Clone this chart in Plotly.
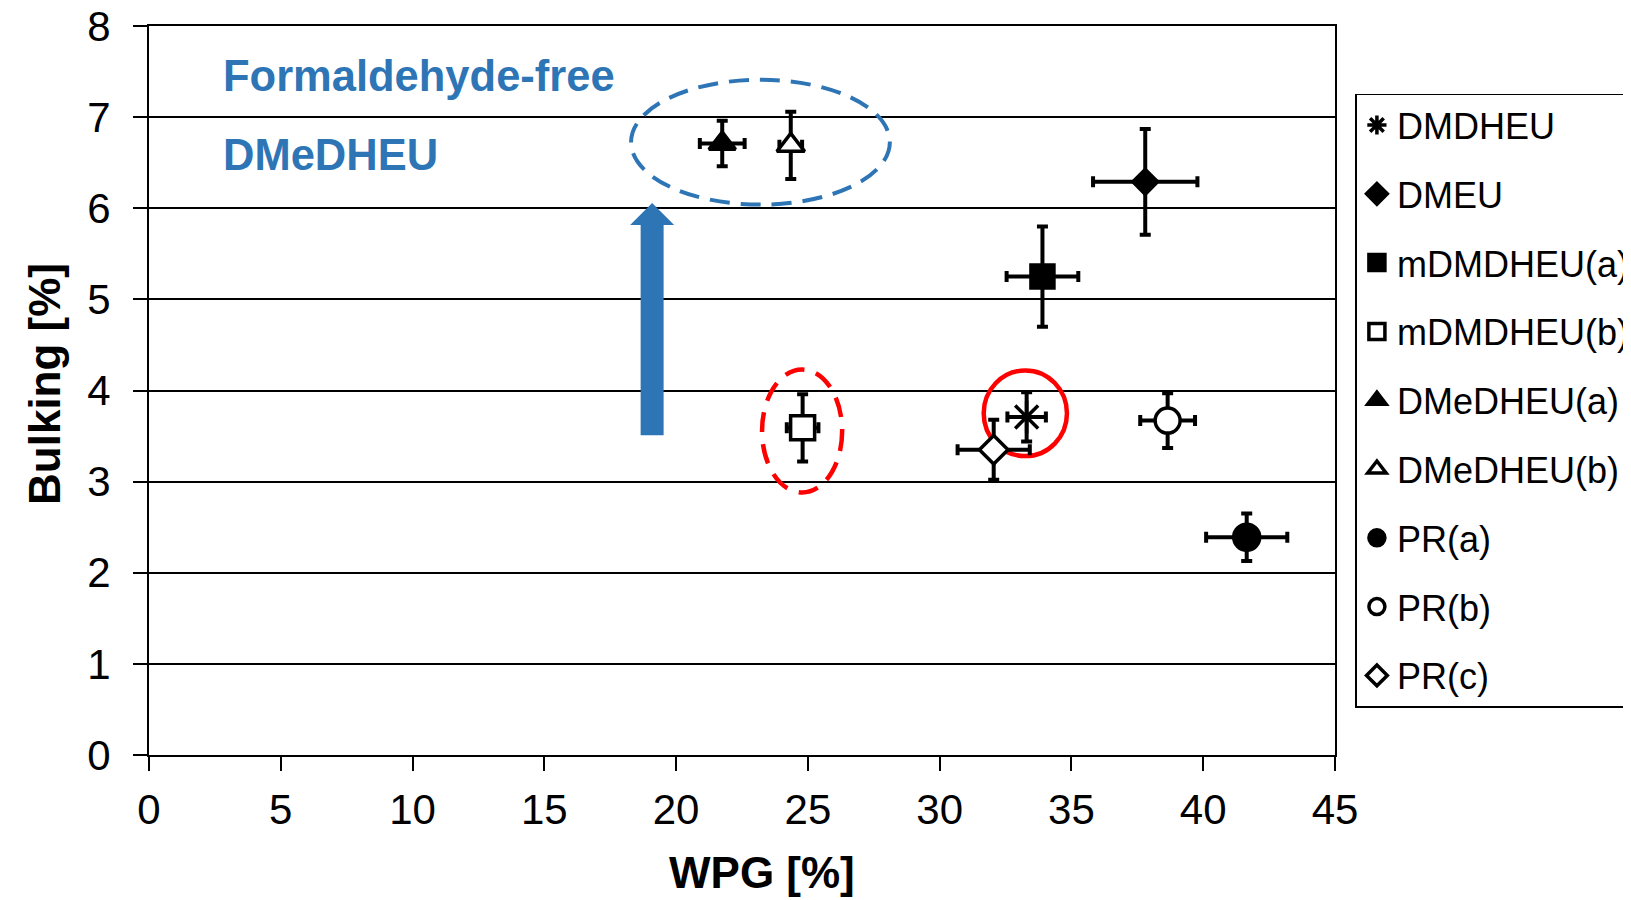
import plotly.graph_objects as go

# ---- data ----
names = ["DMDHEU", "DMEU", "mDMDHEU(a)", "mDMDHEU(b)", "DMeDHEU(a)",
         "DMeDHEU(b)", "PR(a)", "PR(b)", "PR(c)"]
wpg = [33.3, 37.8, 33.9, 24.8, 21.75, 24.35, 41.65, 38.65, 32.05]
wpg_err = [0.73, 1.98, 1.36, 0.6, 0.85, 0.43, 1.54, 1.04, 1.37]
bulking = [3.71, 6.29, 5.25, 3.59, 6.71, 6.69, 2.39, 3.67, 3.35]
bulking_err = [0.27, 0.58, 0.55, 0.37, 0.25, 0.37, 0.26, 0.30, 0.33]

x_ticks = [0, 5, 10, 15, 20, 25, 30, 35, 40, 45]
y_ticks = [0, 1, 2, 3, 4, 5, 6, 7, 8]

# ---- styles ----
symbols = ["asterisk", "diamond", "square", "square", "triangle-up",
           "triangle-up", "circle", "circle", "diamond"]
fills = ["black", "black", "black", "white", "black", "white", "black",
         "white", "white"]
sizes = [27, 19, 23, 24, 23, 24, 26, 25, 22]

FONT = "Liberation Sans, Arial, sans-serif"
BLUE = "#2E75B6"
RED = "#FF0000"

# page body has an 8px margin; figure sized so that it ends at the window edge
W, H = 1623, 892
OFF = 8
PL, PT, PW, PH = 149 - OFF, 26 - OFF, 1185.6, 729  # plot area in figure px


def px(xpage):
    return (xpage - OFF - PL) / PW


def py(ypage):
    return (PT + PH - (ypage - OFF)) / PH


fig = go.Figure()
for i, n in enumerate(names):
    fig.add_trace(go.Scatter(
        x=[wpg[i]], y=[bulking[i]], name=n, mode="markers",
        legendgroup=n,
        marker=dict(symbol=symbols[i], size=sizes[i], color=fills[i],
                    line=dict(color="black", width=3.5)),
        error_x=dict(type="data", array=[wpg_err[i]], color="black",
                     thickness=4, width=5.5),
        error_y=dict(type="data", array=[bulking_err[i]], color="black",
                     thickness=4, width=5.5),
    ))

# ---- annotation shapes ----
ax = 19.09
shapes = [
    dict(type="circle", xref="x", yref="y", x0=18.29, x1=28.11, y0=6.04, y1=7.41,
         line=dict(color=BLUE, width=4, dash="20px,11px"), layer="between"),
    dict(type="circle", xref="x", yref="y", x0=23.26, x1=26.30, y0=2.88, y1=4.23,
         line=dict(color=RED, width=4.5, dash="20px,12px"), layer="between"),
    dict(type="circle", xref="x", yref="y", x0=31.67, x1=34.83, y0=3.28, y1=4.22,
         line=dict(color=RED, width=4.5), layer="between"),
    dict(type="path", xref="x", yref="y",
         path=(f"M {ax-0.436},3.51 L {ax+0.436},3.51 L {ax+0.436},5.816 "
               f"L {ax+0.835},5.816 L {ax},6.058 L {ax-0.835},5.816 "
               f"L {ax-0.436},5.816 Z"),
         fillcolor=BLUE, line=dict(width=0), layer="between"),
]

annotations = [
    dict(text="<b>Formaldehyde-free</b>", xref="paper", yref="paper",
         x=px(221), y=py(76), xanchor="left", yanchor="middle",
         showarrow=False, font=dict(family=FONT, size=43.5, color=BLUE)),
    dict(text="<b>DMeDHEU</b>", xref="paper", yref="paper",
         x=px(221), y=py(155), xanchor="left", yanchor="middle",
         showarrow=False, font=dict(family=FONT, size=43.5, color=BLUE)),
    dict(text="<b>Bulking [%]</b>", xref="paper", yref="paper",
         x=px(45), y=py(384), xanchor="center", yanchor="middle",
         textangle=-90, showarrow=False, font=dict(family=FONT, size=44, color="black")),
    dict(text="<b>WPG [%]</b>", xref="paper", yref="paper",
         x=px(762), y=py(872), xanchor="center", yanchor="middle",
         showarrow=False, font=dict(family=FONT, size=44, color="black")),
]

fig.update_layout(
    width=W, height=H,
    margin=dict(l=PL, r=W - PL - PW, t=PT, b=H - PT - PH, autoexpand=False),
    paper_bgcolor="white", plot_bgcolor="white",
    font=dict(family=FONT, size=42, color="black"),
    showlegend=True,
    legend=dict(x=px(1355), y=py(93.6), xanchor="left",
                yanchor="top", bordercolor="black", borderwidth=1.5,
                bgcolor="white", font=dict(family=FONT, size=36),
                tracegroupgap=19, traceorder="grouped"),
    shapes=shapes, annotations=annotations,
    xaxis=dict(range=[0, 45], tickvals=x_ticks, ticktext=[str(v) for v in x_ticks],
               showgrid=False, zeroline=False, showline=True, linecolor="black",
               linewidth=2, mirror=True, ticks="outside", ticklen=14,
               tickwidth=2, tickcolor="black", ticklabelstandoff=3,
               ticklabeloverflow="allow", tickfont=dict(size=42)),
    yaxis=dict(range=[0, 8], tickvals=y_ticks, ticktext=[str(v) for v in y_ticks],
               showgrid=True, gridcolor="black", gridwidth=1.5, zeroline=False,
               showline=True, linecolor="black", linewidth=2, mirror=True,
               ticks="outside", ticklen=14, tickwidth=2, tickcolor="black",
               ticklabelstandoff=14, ticklabeloverflow="allow",
               tickfont=dict(size=42)),
)

fig.write_html("out.html")
